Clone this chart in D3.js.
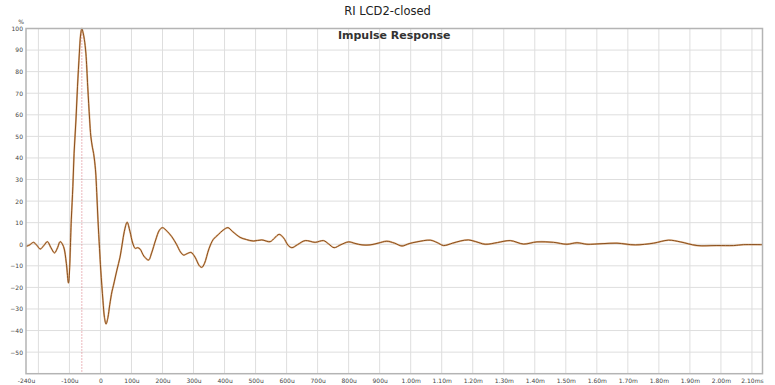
<!DOCTYPE html>
<html><head><meta charset="utf-8">
<script src="https://cdn.jsdelivr.net/npm/d3@7"></script>
<style>html,body{margin:0;padding:0;background:#fff;}svg{display:block;}</style>
</head><body>
<svg id="c" width="775" height="385"></svg>
<script>
// time in microseconds
const times = [-240,-228,-216,-205,-194,-182,-171,-160,-148,-138,-130,-119,-110,-103,-94,-89,-85,-79,-74,-68,-64,-60,-56,-52,-47,-41,-35,-31,-26,-22,-16,-12,-8,-3,1,8,13,18,24,30,37,42,53,63,70,77,86,95,104,112,120,128,140,155,165,178,190,200,215,230,245,258,268,280,292,305,319,327,335,350,364,380,395,411,425,450,470,493,520,547,562,576,590,605,617,635,660,692,719,735,753,775,800,820,843,869,895,923,948,972,995,1020,1063,1085,1106,1135,1160,1186,1210,1240,1280,1321,1364,1407,1460,1504,1536,1568,1620,1665,1724,1783,1831,1869,1923,1987,2041,2073,2134];
const values = [-1.0,-0.3,0.9,-0.5,-2.2,-0.5,1.2,-1.5,-4.0,-1.5,1.2,-1.1,-8.8,-18,11.3,26.7,42.2,57.6,73,88.6,97,100,98,95,88.6,73,58,50,45,42,34.5,24,11.3,-2,-12,-26,-34,-37,-34,-28,-22,-19,-12,-6,0,6,10.2,6,0.5,-1.9,-1.6,-2.3,-5.5,-7.3,-4,2,6.5,7.7,6,3.5,0,-3.6,-5.0,-4.3,-3.8,-6,-10,-10.7,-9,-2,2.3,4.5,6.5,7.7,6,3.2,2.2,1.5,2.0,1.2,3,4.6,3,-0.5,-1.6,-0.2,1.7,0.9,1.7,0.2,-1.6,-0.2,1.1,0.4,-0.3,-0.3,0.5,1.4,0.5,-0.8,0.3,1.1,1.9,0.8,-0.6,0.5,1.5,2.0,1.2,0,0.8,1.7,0.1,1.1,0.9,0,0.7,0,0.3,0.5,-0.3,0.5,1.9,1.1,-0.6,-0.6,-0.6,-0.2,-0.2];
const peakTime = -60;
const xGridValues = [-200,-100,0,100,200,300,400,500,600,700,800,900,1000,1100,1200,1300,1400,1500,1600,1700,1800,1900,2000,2100];
const xTickValues = [-240,-100,0,100,200,300,400,500,600,700,800,900,1000,1100,1200,1300,1400,1500,1600,1700,1800,1900,2000,2100];
const xTickLabels = ["-240u","-100u","0","100u","200u","300u","400u","500u","600u","700u","800u","900u","1.00m","1.10m","1.20m","1.30m","1.40m","1.50m","1.60m","1.70m","1.80m","1.90m","2.00m","2.10ms"];
const yGridValues = [-50,-40,-30,-20,-10,0,10,20,30,40,50,60,70,80,90,100];
const yTickValues = [-50,-40,-30,-20,-10,0,10,20,30,40,50,60,70,80,90,100];
const title = "RI LCD2-closed";
const subtitle = "Impulse Response";
const yUnit = "%";

const svg = d3.select("#c");
const L = 26, R = 762.5, T = 28.5, B = 373.7;
const x = d3.scaleLinear().domain([-240, 2134]).range([L, R]);
const y = d3.scaleLinear().domain([-60, 100]).range([B, T]);
const font = "'DejaVu Sans', sans-serif";

svg.append("rect").attr("width",775).attr("height",385).attr("fill","#fff");

// grid
const g = svg.append("g");
g.selectAll("line.vx").data(xGridValues).enter().append("line")
  .attr("x1", d=>x(d)).attr("x2", d=>x(d)).attr("y1", T).attr("y2", B)
  .attr("stroke","#dedede").attr("stroke-width",1);
g.selectAll("line.hy").data(yGridValues).enter().append("line")
  .attr("x1", L).attr("x2", R).attr("y1", d=>y(d)).attr("y2", d=>y(d))
  .attr("stroke","#dedede").attr("stroke-width",1);

// peak marker
svg.append("line").attr("x1", x(peakTime)).attr("x2", x(peakTime)).attr("y1", T).attr("y2", B)
  .attr("stroke","#d9707a").attr("stroke-width",1).attr("stroke-dasharray","1,2");

// curve
const pts = times.map((t,i)=>[t, values[i]]);
const line = d3.line().x(d=>x(d[0])).y(d=>y(d[1])).curve(d3.curveCatmullRom.alpha(0.5));
svg.append("path").attr("d", line(pts)).attr("fill","none")
  .attr("stroke","#d08a4a").attr("stroke-width",1.8).attr("stroke-opacity",0.6);
svg.append("path").attr("d", line(pts)).attr("fill","none")
  .attr("stroke","#8a4f1c").attr("stroke-width",1);

// frame
svg.append("rect").attr("x",L).attr("y",T).attr("width",R-L).attr("height",B-T)
  .attr("fill","none").attr("stroke","#b4b4b4").attr("stroke-width",1.5);

// axes via d3
const xAxis = d3.axisBottom(x).tickValues(xTickValues)
  .tickFormat((d,i)=>xTickLabels[i]).tickSize(0).tickPadding(5);
const xa = svg.append("g").attr("transform",`translate(0,${B})`).call(xAxis);
xa.select(".domain").remove();
xa.selectAll("text").attr("font-family",font).attr("font-size","6px").attr("fill","#444");

const yAxis = d3.axisLeft(y).tickValues(yTickValues).tickSize(0).tickPadding(3);
const ya = svg.append("g").attr("transform",`translate(${L},0)`).call(yAxis);
ya.select(".domain").remove();
ya.selectAll("text").attr("font-family",font).attr("font-size","6px").attr("fill","#444");

svg.append("text").attr("x",21).attr("y",24).attr("text-anchor","middle")
  .attr("font-family",font).attr("font-size","6px").attr("fill","#444").text(yUnit);

svg.append("text").attr("x",387.5).attr("y",14.5).attr("text-anchor","middle")
  .attr("font-family",font).attr("font-size","11.5px").attr("fill","#222").text(title);
svg.append("text").attr("x",(L+R)/2).attr("y",39).attr("text-anchor","middle")
  .attr("font-family",font).attr("font-size","11px").attr("font-weight","bold").attr("fill","#333").text(subtitle);
</script>
</body></html>
